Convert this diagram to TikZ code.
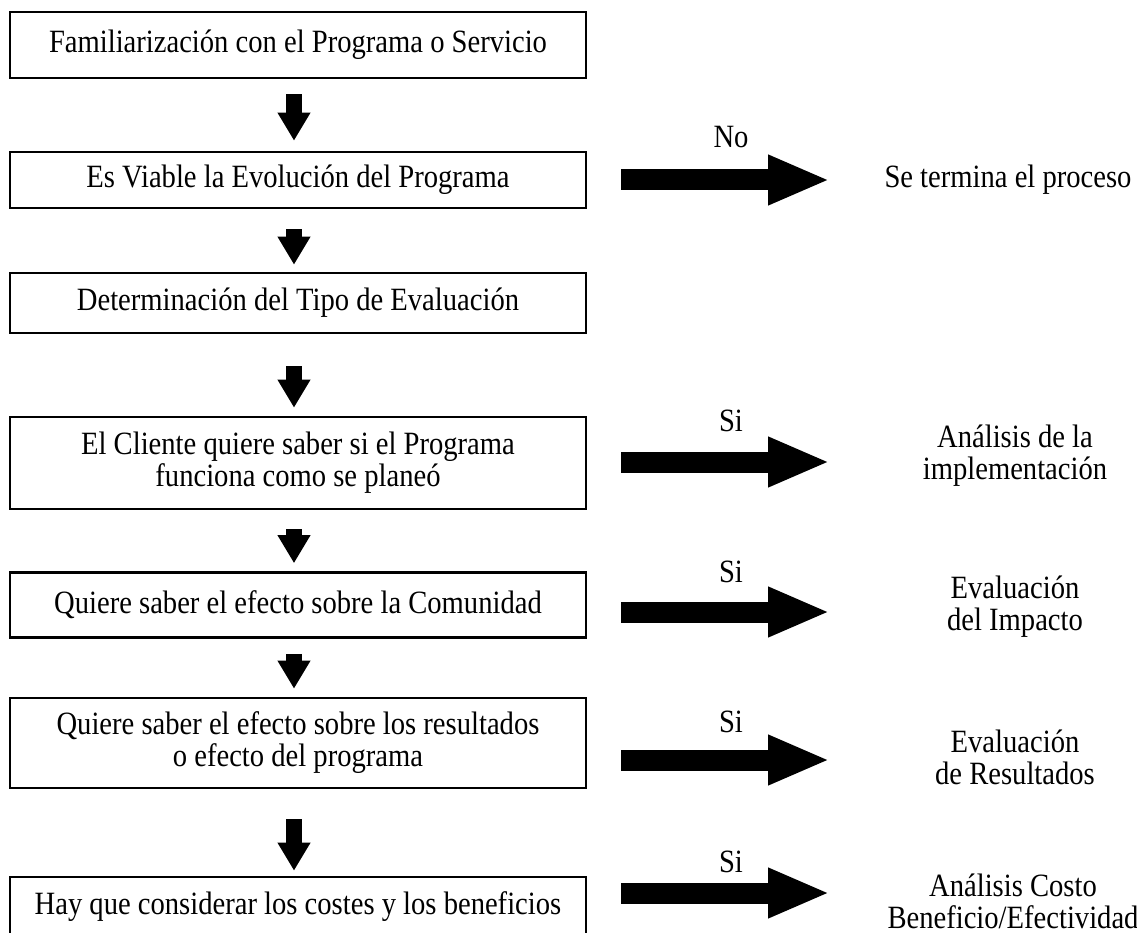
\documentclass[tikz,border=0pt]{standalone}
\usepackage{fontspec}
\setmainfont[FakeStretch=0.88]{Liberation Serif}
\usetikzlibrary{arrows.meta}
\begin{document}
\begin{tikzpicture}[x=1pt,y=-1pt,
  every node/.style={font=\fontsize{32.5}{32}\selectfont, align=center, inner sep=0pt},
  box/.style={draw, line width=2.6pt, minimum width=576pt},
  varrow/.style={line width=16pt, -{Triangle[width=31pt,length=28pt]}},
  harrow/.style={line width=21pt, -{Triangle[width=46pt,length=62pt]}}]
\useasboundingbox (0,0) rectangle (1137,933);
\fill[white] (0,0) rectangle (1137,933);
% boxes
\node[box, minimum height=66pt] (b1) at (298,45) {Familiarización con el Programa o Servicio};
\node[box, minimum height=56pt] (b2) at (298,180) {Es Viable la Evolución del Programa};
\node[box, minimum height=60pt] (b3) at (298,303) {Determinación del Tipo de Evaluación};
\node[box, minimum height=92pt] (b4) at (298,463) {El Cliente quiere saber si el Programa\\funciona como se planeó};
\node[box, minimum height=65pt] (b5) at (298,605) {Quiere saber el efecto sobre la Comunidad};
\node[box, minimum height=90pt] (b6) at (298,743) {Quiere saber el efecto sobre los resultados\\o efecto del programa};
\node[box, minimum height=60pt] (b7) at (298,907) {Hay que considerar los costes y los beneficios};
% vertical arrows
\draw[varrow] ([xshift=-4pt,yshift=-15pt]b1.south) -- ([xshift=-4pt,yshift=10pt]b2.north);
\draw[varrow] ([xshift=-4pt,yshift=-20pt]b2.south) -- ([xshift=-4pt,yshift=7pt]b3.north);
\draw[varrow] ([xshift=-4pt,yshift=-32pt]b3.south) -- ([xshift=-4pt,yshift=8pt]b4.north);
\draw[varrow] ([xshift=-4pt,yshift=-19pt]b4.south) -- ([xshift=-4pt,yshift=8pt]b5.north);
\draw[varrow] ([xshift=-4pt,yshift=-15pt]b5.south) -- ([xshift=-4pt,yshift=8pt]b6.north);
\draw[varrow] ([xshift=-4pt,yshift=-30pt]b6.south) -- ([xshift=-4pt,yshift=5pt]b7.north);
% right results
\node (r2) at (1008,180) {Se termina el proceso};
\node (r4) at (1015,456) {Análisis de la\\implementación};
\node (r5) at (1015,607) {Evaluación\\del Impacto};
\node (r6) at (1015,757) {Evaluación\\de Resultados};
\node (r7) at (1013,901) {Análisis Costo\\Beneficio/Efectividad};
% horizontal arrows
\coordinate (h2s) at (621,180); \coordinate (h2e) at (830,180);
\coordinate (h4s) at (621,462); \coordinate (h4e) at (830,462);
\coordinate (h5s) at (621,612); \coordinate (h5e) at (830,612);
\coordinate (h6s) at (621,760); \coordinate (h6e) at (830,760);
\coordinate (h7s) at (621,893); \coordinate (h7e) at (830,893);
\draw[harrow] (h2s) -- (h2e);
\draw[harrow] (h4s) -- (h4e);
\draw[harrow] (h5s) -- (h5e);
\draw[harrow] (h6s) -- (h6e);
\draw[harrow] (h7s) -- (h7e);
% labels
\node (l2) at (731,137) {No};
\node (l4) at (731,421) {Si};
\node (l5) at (731,572) {Si};
\node (l6) at (731,722) {Si};
\node (l7) at (731,862) {Si};
\end{tikzpicture}
\end{document}
